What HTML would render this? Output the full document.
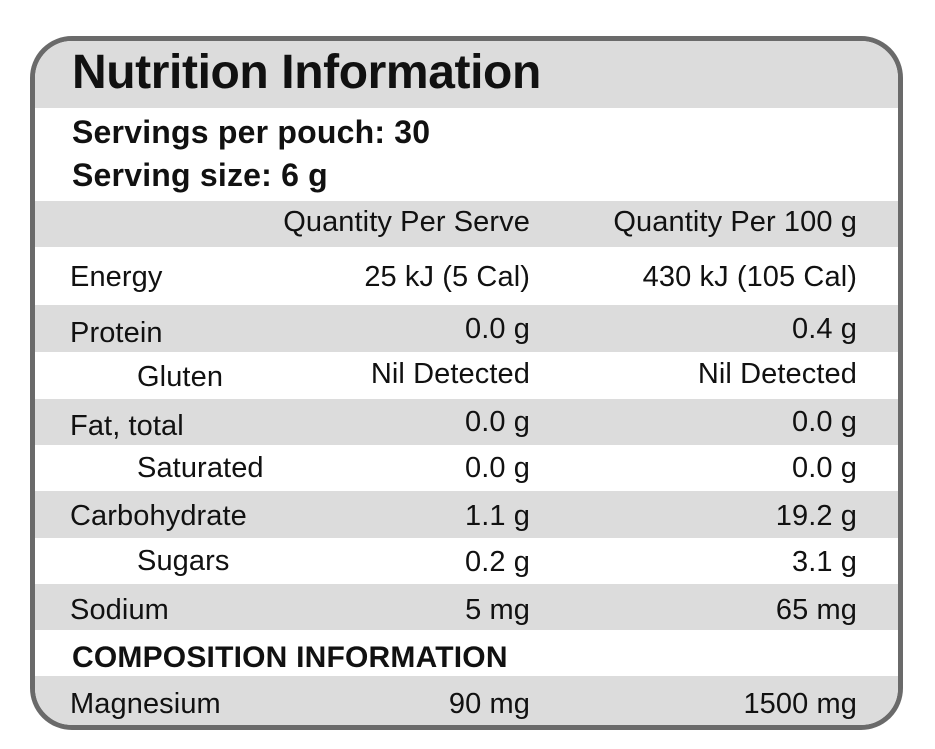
<!DOCTYPE html>
<html><head><style>
body{margin:0;width:935px;height:749px;background:#fff;font-family:"Liberation Sans",sans-serif;color:#111;overflow:hidden}
.box{position:absolute;left:30px;top:36px;width:863px;height:684px;border:5px solid #6a6a6a;border-radius:42px;overflow:hidden;background:#fff}
.r{position:absolute;left:0;width:100%;}
.g{background:#dcdcdc}
.t{position:absolute;white-space:nowrap;font-size:29px;letter-spacing:0.1px;line-height:1}
.a{right:368px}.b{right:41px}
</style></head><body>
<div class="box">
<div class="r g" style="top:0;height:67px"></div>
<div class="r g" style="top:160px;height:46px"></div>
<div class="r g" style="top:264px;height:47px"></div>
<div class="r g" style="top:358px;height:46px"></div>
<div class="r g" style="top:450px;height:47px"></div>
<div class="r g" style="top:543px;height:46px"></div>
<div class="r g" style="top:635px;height:60px"></div>

<div class="t" style="left:37px;top:8px;font-size:48px;font-weight:bold;letter-spacing:-0.4px">Nutrition Information</div>
<div class="t" style="left:37px;top:75px;font-size:32px;font-weight:bold;letter-spacing:0.2px">Servings per pouch: 30</div>
<div class="t" style="left:37px;top:118px;font-size:32px;font-weight:bold;letter-spacing:0.2px">Serving size: 6 g</div>

<div class="t a" style="top:167px">Quantity Per Serve</div>
<div class="t b" style="top:167px">Quantity Per 100 g</div>

<div class="t" style="left:35px;top:222px">Energy</div><div class="t a" style="top:222px">25 kJ (5 Cal)</div><div class="t b" style="top:222px">430 kJ (105 Cal)</div>
<div class="t" style="left:35px;top:278px">Protein</div><div class="t a" style="top:274px">0.0 g</div><div class="t b" style="top:274px">0.4 g</div>
<div class="t" style="left:102px;top:322px">Gluten</div><div class="t a" style="top:319px">Nil Detected</div><div class="t b" style="top:319px">Nil Detected</div>
<div class="t" style="left:35px;top:371px">Fat, total</div><div class="t a" style="top:367px">0.0 g</div><div class="t b" style="top:367px">0.0 g</div>
<div class="t" style="left:102px;top:413px">Saturated</div><div class="t a" style="top:413px">0.0 g</div><div class="t b" style="top:413px">0.0 g</div>
<div class="t" style="left:35px;top:461px">Carbohydrate</div><div class="t a" style="top:461px">1.1 g</div><div class="t b" style="top:461px">19.2 g</div>
<div class="t" style="left:102px;top:506px">Sugars</div><div class="t a" style="top:507px">0.2 g</div><div class="t b" style="top:507px">3.1 g</div>
<div class="t" style="left:35px;top:555px">Sodium</div><div class="t a" style="top:555px">5 mg</div><div class="t b" style="top:555px">65 mg</div>
<div class="t" style="left:37px;top:602px;font-weight:bold;font-size:30px;letter-spacing:0.2px">COMPOSITION INFORMATION</div>
<div class="t" style="left:35px;top:649px">Magnesium</div><div class="t a" style="top:649px">90 mg</div><div class="t b" style="top:649px">1500 mg</div>
</div>
</body></html>
